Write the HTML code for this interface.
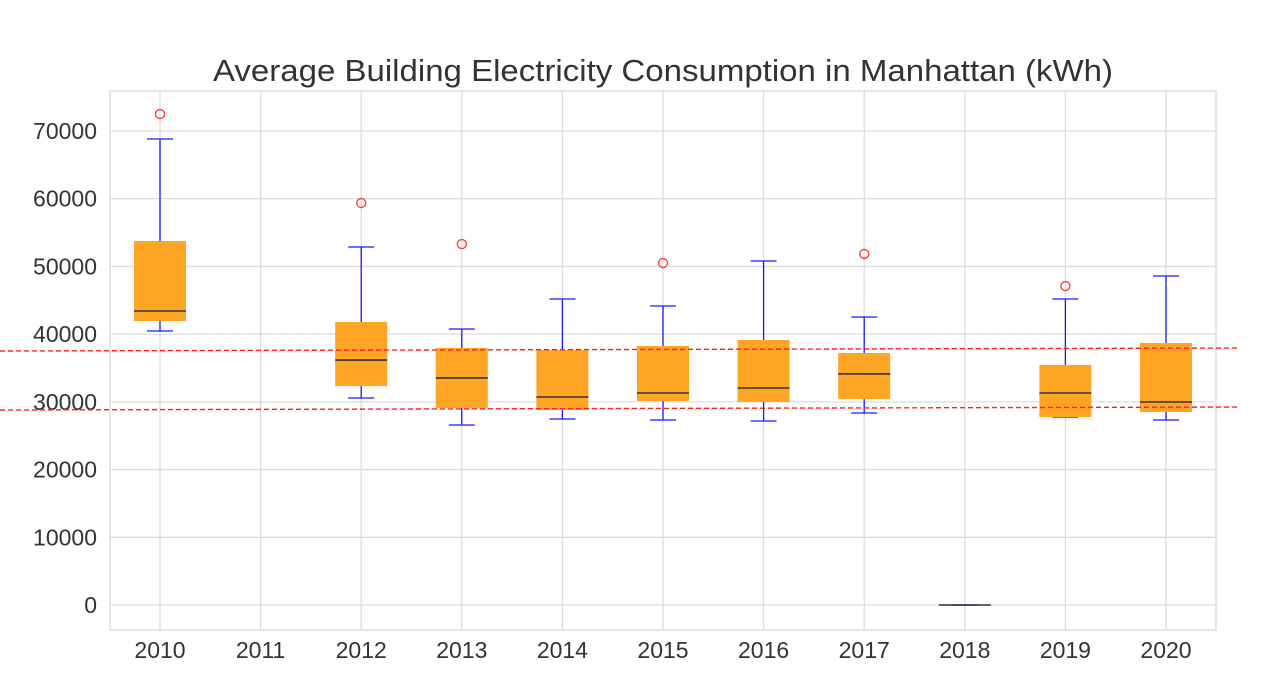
<!DOCTYPE html>
<html><head><meta charset="utf-8"><style>
body{margin:0;background:#fff;}
svg{display:block;font-family:"Liberation Sans",sans-serif;}
</style></head><body>
<svg id="chart" width="1266" height="694" viewBox="0 0 1266 694">
<text x="213" y="81" font-size="31" fill="#333" textLength="900" lengthAdjust="spacingAndGlyphs">Average Building Electricity Consumption in Manhattan (kWh)</text>
<rect x="110" y="91" width="1106" height="539" fill="none" stroke="#ddd" stroke-width="1.5"/>
<g id="grid"></g><g id="marks"></g>
</svg>
<script>
const years=["2010","2011","2012","2013","2014","2015","2016","2017","2018","2019","2020"];
const whiskerHigh=[68820,null,52870,40760,45190,44160,50800,42530,0,45190,48590];
const q3=[53760,null,41800,37960,37660,38250,39140,37220,0,35450,38700];
const medians=[43420,null,36180,33530,30720,31310,32050,34120,0,31310,29980];
const q1=[41940,null,32340,29100,28800,30130,29980,30420,0,27770,28500];
const whiskerLow=[40470,null,30570,26580,27470,27320,27170,28360,0,27770,27320];
const outliers=[72520,null,59370,53310,null,50510,null,51840,null,47110,null];
const yTicks=[0,10000,20000,30000,40000,50000,60000,70000];
const refUpper=[37510,37955];
const refLower=[28800,29240];
const NS="http://www.w3.org/2000/svg";
const y=v=>605-v*67.71/10000;
const x=i=>160+i*100.6;
const grid=document.getElementById('grid'),marks=document.getElementById('marks');
function mk(p,tag,a){const e=document.createElementNS(NS,tag);for(const k in a)e.setAttribute(k,a[k]);p.appendChild(e);return e;}
yTicks.forEach(t=>{
 const l=mk(grid,'line',{x1:110,x2:1216,y1:y(t),y2:y(t),stroke:'#ddd','stroke-width':1.3});
 
 
 const tx=mk(grid,'text',{x:97,y:y(t)+8,'font-size':23,fill:'#333','text-anchor':'end'});
 tx.textContent=t;
 
 
});
years.forEach((yr,i)=>{
 const l=mk(grid,'line',{x1:x(i),x2:x(i),y1:91,y2:630,stroke:'#ddd','stroke-width':1.3});
 
 
 const tx=mk(grid,'text',{x:x(i),y:658,'font-size':23,fill:'#333','text-anchor':'middle'});
 tx.textContent=yr;
 
 
});
years.forEach((yr,i)=>{
 if(q3[i]===null)return;
 const g=mk(marks,'g',{});
 
 
 const cx=x(i);
 mk(g,'line',{x1:cx,x2:cx,y1:y(whiskerHigh[i]),y2:y(q3[i]),stroke:'#1a1aff','stroke-width':1.3});
 mk(g,'line',{x1:cx,x2:cx,y1:y(q1[i]),y2:y(whiskerLow[i]),stroke:'#1a1aff','stroke-width':1.3});
 mk(g,'line',{x1:cx-13,x2:cx+13,y1:y(whiskerHigh[i]),y2:y(whiskerHigh[i]),stroke:'#1a1aff','stroke-width':1.3});
 mk(g,'line',{x1:cx-13,x2:cx+13,y1:y(whiskerLow[i]),y2:y(whiskerLow[i]),stroke:'#1a1aff','stroke-width':1.3});
 const h=Math.max(y(q1[i])-y(q3[i]),0);
 if(h>0)mk(g,'rect',{x:cx-26,y:y(q3[i]),width:52,height:h,fill:'#ffa526'});
 mk(g,'line',{x1:cx-26,x2:cx+26,y1:y(medians[i]),y2:y(medians[i]),stroke:'#333','stroke-width':1.6});
 if(outliers[i]!==null){
  const c=mk(g,'circle',{cx:cx,cy:y(outliers[i]),r:4.5,fill:'none',stroke:'#ff4040','stroke-width':1.4});
  
  
 }
});
[[refUpper,'upper-reference-line'],[refLower,'lower-reference-line']].forEach(([r,n])=>{
 const l=mk(marks,'line',{x1:0,x2:1240,y1:y(r[0]),y2:y(r[1]),stroke:'#ff2020','stroke-width':1.4,'stroke-dasharray':'5,3'});
 
 
});
</script>
</body></html>
